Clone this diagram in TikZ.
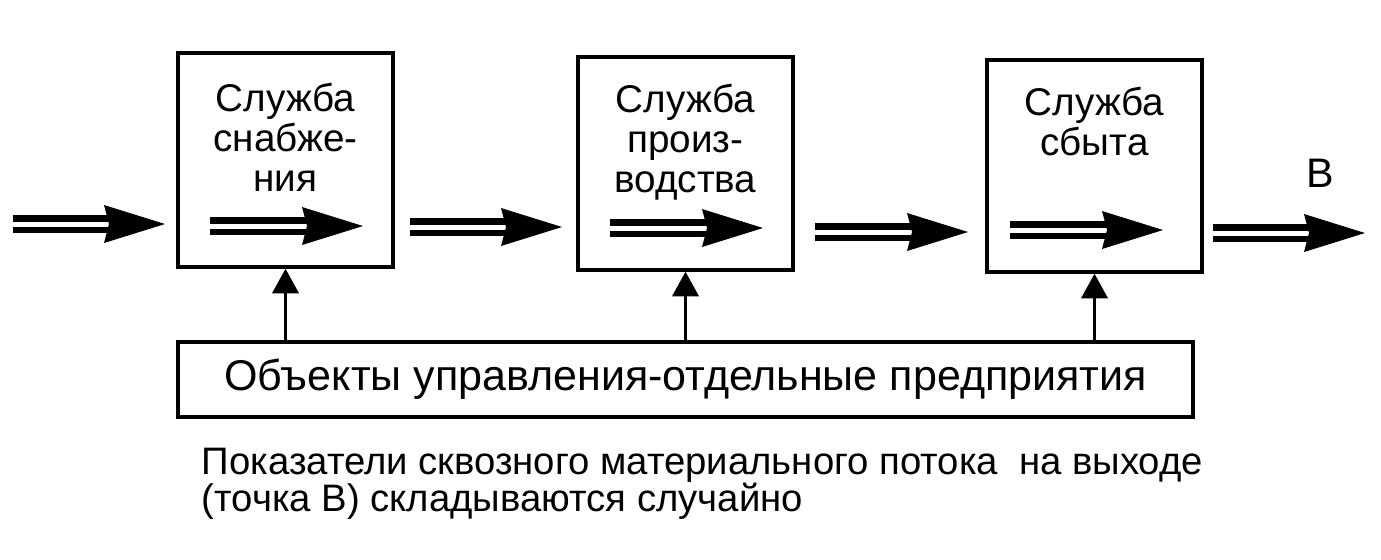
\documentclass[tikz,border=0pt]{standalone}
\usepackage{fontspec}
\setmainfont{Liberation Sans}
\usetikzlibrary{arrows.meta, positioning, calc}

\begin{document}
\begin{tikzpicture}[x=0.02cm, y=-0.02cm, line width=2pt]
  \tikzstyle{unit}=[draw, line width=2pt, minimum width=4.3cm, inner sep=0pt]
  \tikzstyle{title}=[inner sep=0pt, align=center,
    font=\fontsize{22}{22.7}\selectfont]
  \tikzstyle{flow}=[line width=0.13cm, double distance=0.1cm, shorten >=1cm]
  \tikzstyle{ctrl}=[line width=1.6pt, -{Triangle[length=14pt, width=15pt]}]

  \useasboundingbox (0,0) rectangle (1381,559);

  % Services
  \node[unit, minimum height=4.28cm] (supply) at (285.5,160) {};
  \node[unit, minimum height=4.26cm] (prod) at (685.5,163.5) {};
  \node[unit, minimum height=4.24cm] (sales) at (1094.5,166) {};
  % Objects
  \node[unit, minimum width=20.3cm, minimum height=1.5cm,
    font=\fontsize{24.5}{26}\selectfont] (objects) at (685.5,379.5)
    {Объекты управления-отдельные предприятия};

  %% Labels
  \node[title, below=0.6cm of supply.north] {Служба\\снабже-\\ния};
  \node[title, below=0.55cm of prod.north] {Служба\\произ-\\водства};
  \node[title, below=0.55cm of sales.north] {Служба\\сбыта};
  \node[font=\fontsize{23.5}{25}\selectfont] (point) at (1320,173) {В};

  % Flow arrows
  \coordinate (f0a) at (13,224);   \coordinate (f0b) at (165,224);
  \coordinate (f1a) at (210,226);  \coordinate (f1b) at (363,226);
  \coordinate (f2a) at (410,227);  \coordinate (f2b) at (562,227);
  \coordinate (f3a) at (610,228);  \coordinate (f3b) at (763,228);
  \coordinate (f4a) at (815,232);  \coordinate (f4b) at (968,232);
  \coordinate (f5a) at (1010,230); \coordinate (f5b) at (1163,230);
  \coordinate (f6a) at (1213,233); \coordinate (f6b) at (1365,233);
  \foreach \a/\b in {f0a/f0b, f1a/f1b, f2a/f2b, f3a/f3b, f4a/f4b, f5a/f5b, f6a/f6b}{
    \draw[flow] (\a) -- (\b);
    \fill (\b) -- ++(-61,19) -- ++(5,-19) -- ++(-5,-19) -- cycle;
  }

  % Control arrows
  \draw[ctrl] (objects.north -| supply) -- (supply.south);
  \draw[ctrl] (objects.north -| prod) -- (prod.south);
  \draw[ctrl] (objects.north -| sales) -- (sales.south);

  % Caption
  \node[anchor=north west, inner sep=0pt, align=left,
    font=\fontsize{21.8}{21.5}\selectfont] (caption) at (200,446)
    {Показатели сквозного материального потока\ \ на выходе\\(точка В) складываются случайно};
\end{tikzpicture}
\end{document}
